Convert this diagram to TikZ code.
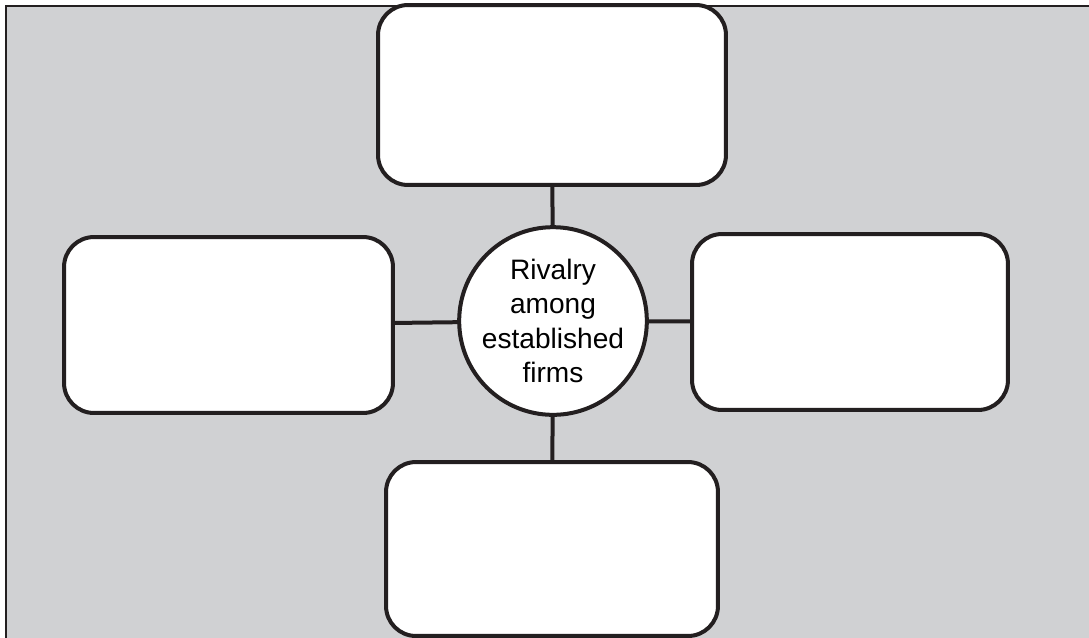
\documentclass[tikz,border=0pt]{standalone}
\usepackage{fontspec}
\setmainfont{Liberation Sans}
\usetikzlibrary{shapes,arrows,fit,positioning}
\definecolor{panel}{RGB}{208,209,211}
\definecolor{ink}{RGB}{35,31,32}
\def\Hub{Rivalry \\ among \\ established \\ firms}

\begin{document}
\begin{tikzpicture}[x=0.02cm,y=-0.02cm,% one unit is one pixel of the reference
				every node/.style={
					align=center,		% use this so that the "\\" for line break works
					font=\fontsize{16}{19.5}\selectfont
				},
				force/.style={rectangle,rounded corners=0.6cm,line width=0.08cm,draw=ink,fill=white},
				every edge/.style={draw=ink,line width=0.08cm}
			]
			\clip (0,0) rectangle (1089,637);
			\fill[panel] (6,5.5) rectangle (1100,650);
			\draw[ink,line width=0.04cm] (6,650) -- (6,5.5) -- (1100,5.5);
			\node[circle,line width=0.08cm,draw=ink,fill=white,minimum size=3.52cm,inner sep=0pt](R1) at (553,321){\Hub};
			\node[force,minimum width=6.96cm,minimum height=3.6cm](R2) at (552,95){};
			\node[force,minimum width=6.58cm,minimum height=3.52cm](R3) at (228.5,325){};
			\node[force,minimum width=6.32cm,minimum height=3.52cm](R4) at (850,322){};
			\node[force,minimum width=6.64cm,minimum height=3.48cm](R5) at (552,549){};
			\path
			(R2)edge []	node [] {} (R1)
			(R3)edge []	node [] {} (R1)
			(R1)edge []	node [] {} (R4)
			(R1)edge []	node [] {} (R5)
			;
		\end{tikzpicture}
\end{document}
